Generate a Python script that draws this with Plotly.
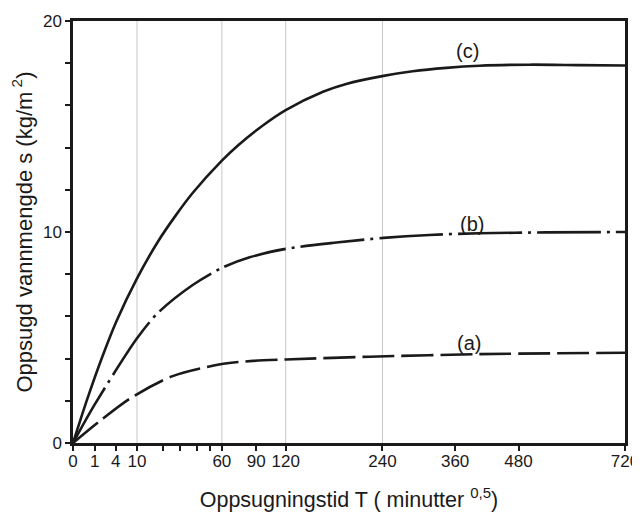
import plotly.graph_objects as go

# x positions are in the chart's drawn axis units (approximately sqrt of minutes)
x_tick_pos = [0, 1.05, 2.07, 3.11, 7.23, 8.90, 10.33, 15.03, 18.56, 21.64, 26.81]
x_tick_text = ["0", "1", "4", "10", "60", "90", "120", "240", "360", "480", "720"]
x_minor_pos = [4.37, 5.18, 6.02, 6.64]
grid_pos = [3.11, 7.23, 10.33, 15.03]

y_tick_vals = [0, 10, 20]
y_tick_text = ["0", "10", "20"]
y_minor_vals = [2, 4, 6, 8, 12, 14, 16, 18]

# curve (c) - solid
c_x = [0, 0.7, 1.41, 2.11, 3.11, 4.13, 5.0, 5.83, 7.23, 8.01, 9.22, 10.33, 12.14, 13.27, 15.08, 16.50, 18.13, 19.74, 22.17, 24.60, 26.81]
c_y = [0, 2.1, 4.05, 5.77, 7.8, 9.55, 10.8, 11.87, 13.38, 14.1, 15.05, 15.78, 16.65, 17.02, 17.4, 17.62, 17.78, 17.88, 17.93, 17.91, 17.89]

# curve (b) - dash-dot
b_x = [0, 1.05, 3.11, 4.13, 5.83, 7.23, 8.58, 10.33, 12.79, 15.08, 17.31, 19.74, 22.98, 26.81]
b_y = [0, 1.82, 4.96, 6.17, 7.5, 8.3, 8.8, 9.2, 9.5, 9.72, 9.86, 9.94, 9.98, 10.0]

# curve (a) - dashed
a_x = [0, 1.30, 2.82, 4.84, 7.23, 8.74, 10.33, 14.40, 19.74, 26.81]
a_y = [0, 1.04, 2.14, 3.17, 3.74, 3.89, 3.96, 4.09, 4.21, 4.28]

labels = ["(c)", "(b)", "(a)"]
label_x = [19.16, 19.36, 19.23]
label_y = [18.6, 10.36, 4.76]

FONT = "Liberation Sans, Arial, sans-serif"
INK = "#1a1a1a"

fig = go.Figure()
fig.add_trace(go.Scatter(x=c_x, y=c_y, mode="lines", line=dict(color=INK, width=2.6, shape="spline", smoothing=0.8)))
fig.add_trace(go.Scatter(x=b_x, y=b_y, mode="lines", line=dict(color=INK, width=2.6, shape="spline", smoothing=0.8, dash="64px,6px,3px,6px")))
fig.add_trace(go.Scatter(x=a_x, y=a_y, mode="lines", line=dict(color=INK, width=2.6, shape="spline", smoothing=0.8, dash="32px,7px")))

for gx in grid_pos:
    fig.add_shape(type="line", xref="x", yref="paper", x0=gx, x1=gx, y0=0, y1=1,
                  line=dict(color="#c8c8c8", width=1), layer="below")

for t, lx, ly in zip(labels, label_x, label_y):
    fig.add_annotation(x=lx, y=ly, text=t, showarrow=False, font=dict(family=FONT, size=20, color=INK))

# the page places the figure 8px in from the top-left corner
fig.update_layout(
    width=632, height=504,
    margin=dict(l=65, r=14.5, t=13, b=68.5),
    paper_bgcolor="white", plot_bgcolor="white",
    showlegend=False,
    font=dict(family=FONT, color=INK),
)
fig.update_xaxes(
    automargin=False,
    range=[0, 26.81], tickmode="array", tickvals=x_tick_pos, ticktext=x_tick_text,
    ticks="outside", ticklen=5, tickwidth=1.5, tickcolor=INK,
    minor=dict(tickmode="array", tickvals=x_minor_pos, ticks="outside", ticklen=5, tickwidth=1.5, tickcolor=INK, showgrid=False),
    showline=True, linewidth=2.5, linecolor=INK, mirror=True,
    showgrid=False, zeroline=False, tickfont=dict(size=17), ticklabelstandoff=-4,
    title=dict(text="Oppsugningstid T ( minutter <sup>0,5</sup>)", font=dict(size=21.5), standoff=23),
)
fig.update_yaxes(
    automargin=False,
    range=[0, 20], tickmode="array", tickvals=y_tick_vals, ticktext=y_tick_text,
    ticks="outside", ticklen=5, tickwidth=1.5, tickcolor=INK,
    minor=dict(tickmode="array", tickvals=y_minor_vals, ticks="outside", ticklen=5, tickwidth=1.5, tickcolor=INK, showgrid=False),
    showline=True, linewidth=2.5, linecolor=INK, mirror=True,
    showgrid=False, zeroline=False, tickfont=dict(size=17),
    title=dict(text="Oppsugd vannmengde s (kg/m<sup> 2</sup>)", font=dict(size=22), standoff=5),
)

fig.write_html("out.html")
